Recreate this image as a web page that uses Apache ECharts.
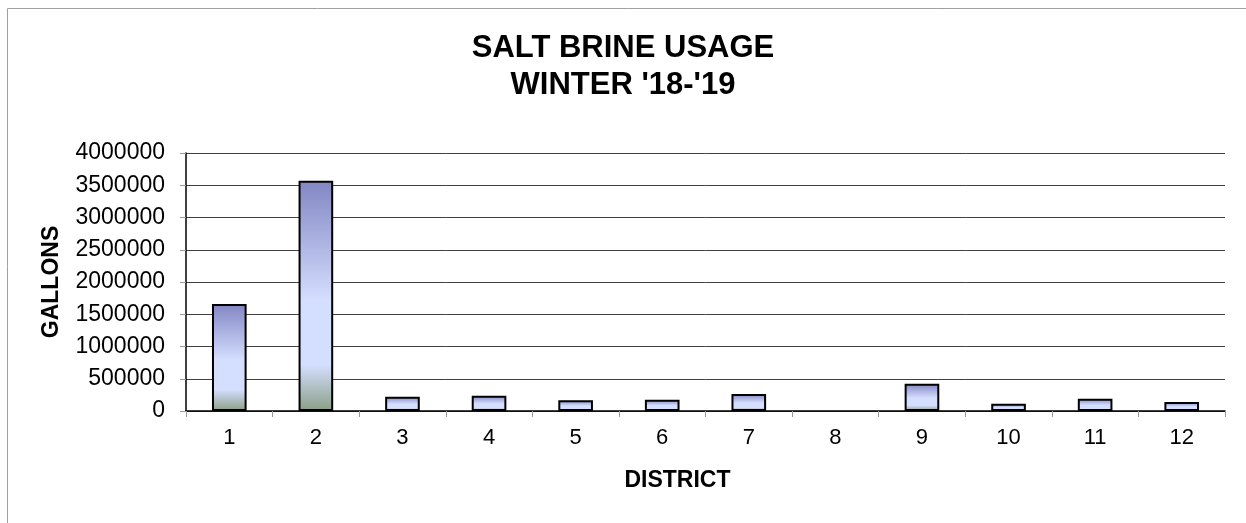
<!DOCTYPE html>
<html>
<head>
    <meta charset="utf-8">
    <title>Salt brine usage</title>
    <script src="https://cdn.jsdelivr.net/npm/echarts@6/dist/echarts.min.js"></script>
    <style>
        html, body { margin: 0; padding: 0; background: #fff; }
        #main { width: 1246px; height: 523px; }
    </style>
</head>
<body>
    <div id="main"></div>
    <script type="text/javascript">
        // districts and gallons used
        var districts = ['1', '2', '3', '4', '5', '6', '7', '8', '9', '10', '11', '12'];
        var gallons = [1660000, 3570000, 222000, 237000, 166000, 175000, 264000, 0, 423000, 113000, 191000, 140000];
        var yTicks = [0, 500000, 1000000, 1500000, 2000000, 2500000, 3000000, 3500000, 4000000];

        var myChart = echarts.init(document.getElementById('main'));

        var font = '"Liberation Sans", Arial, sans-serif';

        // empty districts get no outline, like the original
        var barData = gallons.map(function (v) {
            return v === 0 ? { value: v, itemStyle: { borderWidth: 0 } } : v;
        });

        var option = {
            backgroundColor: '#fff',
            animation: false,
            title: {
                text: 'SALT BRINE USAGE\nWINTER \'18-\'19',
                left: 'center',
                top: 25,
                textStyle: {
                    fontFamily: font,
                    fontSize: 31,
                    fontWeight: 'bold',
                    color: '#000',
                    lineHeight: 37
                }
            },
            graphic: [{
                // outer chart frame (only left and top visible)
                type: 'rect',
                shape: { x: 7.5, y: 8.5, width: 1300, height: 600 },
                style: { fill: 'none', stroke: '#a0a0a0', lineWidth: 1 },
                silent: true
            }],
            grid: {
                left: 186,
                right: 21,
                top: 153,
                bottom: 112
            },
            xAxis: {
                type: 'category',
                data: districts,
                name: 'DISTRICT',
                nameLocation: 'middle',
                nameGap: 58,
                nameTextStyle: {
                    fontFamily: font,
                    fontSize: 23,
                    fontWeight: 'bold',
                    color: '#000',
                    padding: [0, 56, 0, 0]
                },
                axisLine: { lineStyle: { color: '#000', width: 1.5 } },
                axisTick: { show: true, length: 6, lineStyle: { color: '#999' } },
                axisLabel: {
                    margin: 16,
                    fontFamily: font,
                    fontSize: 22,
                    color: '#000'
                }
            },
            yAxis: {
                type: 'value',
                min: 0,
                max: yTicks[yTicks.length - 1],
                interval: yTicks[1] - yTicks[0],
                name: 'GALLONS',
                nameLocation: 'middle',
                nameGap: 123,
                nameTextStyle: {
                    fontFamily: font,
                    fontSize: 23,
                    fontWeight: 'bold',
                    color: '#000'
                },
                axisLine: { show: true, lineStyle: { color: '#000', width: 1.5 } },
                axisTick: { show: true, length: 6, lineStyle: { color: '#999' } },
                axisLabel: {
                    margin: 21,
                    fontFamily: font,
                    fontSize: 23,
                    color: '#000',
                    formatter: function (v) { return String(v); }
                },
                splitLine: {
                    show: true,
                    lineStyle: { color: '#404040', width: 1 }
                }
            },
            series: [{
                name: 'Gallons',
                type: 'bar',
                data: barData,
                barWidth: '40%',
                itemStyle: {
                    borderColor: '#000',
                    borderWidth: 2,
                    color: new echarts.graphic.LinearGradient(0, 0, 0, 1, [
                        { offset: 0, color: '#8286c3' },
                        { offset: 0.52, color: '#d4defe' },
                        { offset: 0.8, color: '#d4defe' },
                        { offset: 1, color: '#8b9f86' }
                    ])
                }
            }]
        };

        myChart.setOption(option);
    </script>
</body>
</html>
